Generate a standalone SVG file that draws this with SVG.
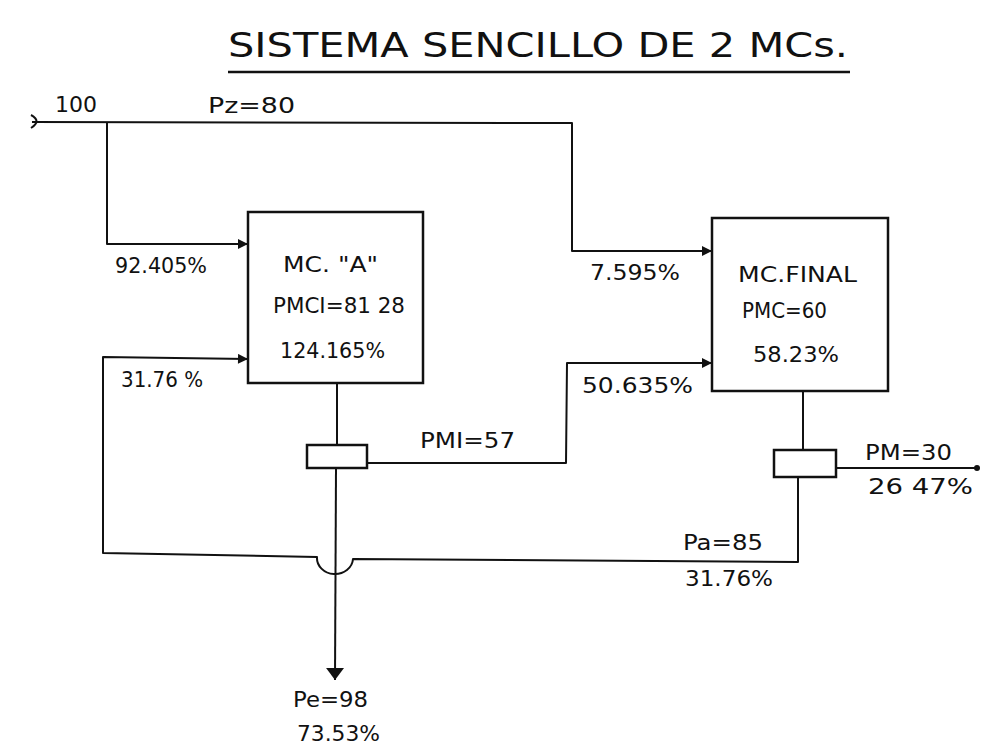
<svg xmlns="http://www.w3.org/2000/svg" width="981" height="747" viewBox="0 0 981 747">
<defs>
<marker id="arr" viewBox="0 0 10 10" refX="10" refY="5" markerWidth="11" markerHeight="10" markerUnits="userSpaceOnUse" orient="auto">
<path d="M0,0 L10,5 L0,10 Z" fill="#111"/>
</marker>
<marker id="arrBig" viewBox="0 0 12 18" refX="12" refY="9" markerWidth="12" markerHeight="18" markerUnits="userSpaceOnUse" orient="auto">
<path d="M0,0 L12,9 L0,18 Z" fill="#111"/>
</marker>
</defs>
<style>
.ln{fill:none;stroke:#111;stroke-width:2;stroke-linejoin:round}
.bx{fill:#fff;stroke:#111;stroke-width:2.5}
.t{font-family:"DejaVu Sans","Liberation Sans",sans-serif;font-size:21px;fill:#111}
.title{font-family:"DejaVu Sans","Liberation Sans",sans-serif;font-size:34px;fill:#111}
</style>
<rect width="981" height="747" fill="#fff"/>
<g id="title">
<text class="title" x="228" y="57" textLength="620" lengthAdjust="spacingAndGlyphs">SISTEMA SENCILLO DE 2 MCs.</text>
<line x1="228" y1="72" x2="850" y2="72" stroke="#111" stroke-width="2.5"/>
</g>
<g id="connectors">
<path class="ln" d="M31,115 Q42,121 31,128"/>
<path class="ln" d="M32,122 L572,123 L572,251 L712,251" marker-end="url(#arr)"/>
<path class="ln" d="M107,122 L107,244 L248,244" marker-end="url(#arr)"/>
<path class="ln" d="M798,477 L798,562 L353,559 A18,16 0 0 1 317,557 L103,553 L103,357 L248,359" marker-end="url(#arr)"/>
<path class="ln" d="M337,383 L337,445"/>
<path class="ln" d="M336,468 L335,680" marker-end="url(#arrBig)"/>
<path class="ln" d="M367,463 L566,463 L567,363 L712,363" marker-end="url(#arr)"/>
<path class="ln" d="M803,391 L803,450"/>
<path class="ln" d="M836,468 L977,468"/>
<circle cx="977" cy="468" r="3" fill="#111"/>
</g>
<g id="input">
<text class="t" x="55" y="112" textLength="42" lengthAdjust="spacingAndGlyphs">100</text>
<text class="t" x="208" y="113" textLength="87" lengthAdjust="spacingAndGlyphs">Pz=80</text>
</g>
<g id="mcA">
<rect class="bx" x="248" y="212" width="175" height="171"/>
<text class="t" x="283" y="272" textLength="95" lengthAdjust="spacingAndGlyphs">MC. "A"</text>
<text class="t" x="273" y="313" textLength="132" lengthAdjust="spacingAndGlyphs">PMCI=81 28</text>
<text class="t" x="280" y="358" textLength="105" lengthAdjust="spacingAndGlyphs">124.165%</text>
<text class="t" x="115" y="273" textLength="92" lengthAdjust="spacingAndGlyphs">92.405%</text>
<text class="t" x="121" y="387" textLength="82" lengthAdjust="spacingAndGlyphs">31.76 %</text>
</g>
<g id="sepA">
<rect class="bx" x="307" y="445" width="60" height="23"/>
<text class="t" x="420" y="448" textLength="95" lengthAdjust="spacingAndGlyphs">PMI=57</text>
</g>
<g id="mcFinal">
<rect class="bx" x="712" y="218" width="176" height="173"/>
<text class="t" x="738" y="282" textLength="119" lengthAdjust="spacingAndGlyphs">MC.FINAL</text>
<text class="t" x="742" y="318" textLength="85" lengthAdjust="spacingAndGlyphs">PMC=60</text>
<text class="t" x="753" y="362" textLength="86" lengthAdjust="spacingAndGlyphs">58.23%</text>
<text class="t" x="590" y="280" textLength="90" lengthAdjust="spacingAndGlyphs">7.595%</text>
<text class="t" x="582" y="393" textLength="111" lengthAdjust="spacingAndGlyphs">50.635%</text>
</g>
<g id="sepFinal">
<rect class="bx" x="774" y="450" width="62" height="27"/>
<text class="t" x="865" y="460" textLength="87" lengthAdjust="spacingAndGlyphs">PM=30</text>
<text class="t" x="868" y="494" textLength="105" lengthAdjust="spacingAndGlyphs">26 47%</text>
<text class="t" x="683" y="550" textLength="80" lengthAdjust="spacingAndGlyphs">Pa=85</text>
<text class="t" x="685" y="586" textLength="88" lengthAdjust="spacingAndGlyphs">31.76%</text>
</g>
<g id="output">
<text class="t" x="293" y="707" textLength="75" lengthAdjust="spacingAndGlyphs">Pe=98</text>
<text class="t" x="297" y="741" textLength="83" lengthAdjust="spacingAndGlyphs">73.53%</text>
</g>
</svg>
